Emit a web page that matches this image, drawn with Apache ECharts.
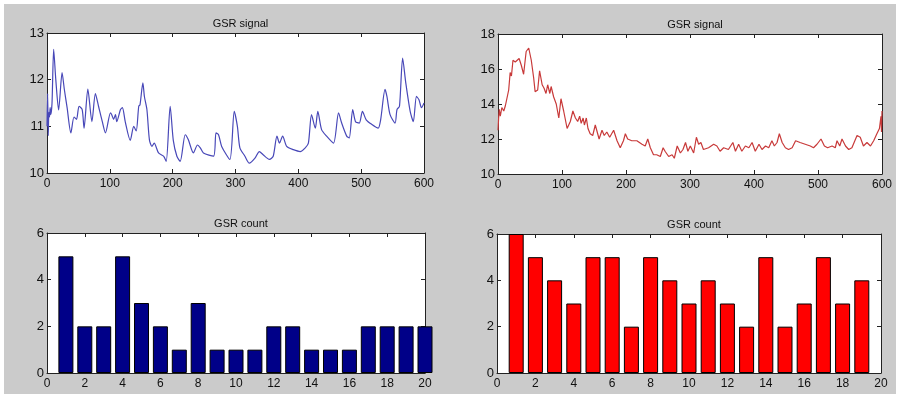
<!DOCTYPE html>
<html>
<head>
<meta charset="utf-8">
<script src="https://cdn.jsdelivr.net/npm/echarts@6/dist/echarts.min.js"></script>
<style>
html,body{margin:0;padding:0;background:#fff;}
#c{width:903px;height:401px;}
</style>
</head>
<body>
<div id="c"></div>
<script>
const titles = ['GSR signal', 'GSR signal', 'GSR count', 'GSR count'];

const leftSignal = [[0,11.0],[1,11.7],[2,10.8],[3,11.3],[4,11.2],[5,11.4],[6,11.25],[8,11.5],[10.6,12.65],[14,12.0],[18.5,11.35],[24,12.15],[27.5,11.8],[32,11.4],[38,10.86],[43,11.2],[47,11.15],[51,11.43],[56,11.36],[59,10.96],[65,11.8],[71.5,11.1],[77,11.7],[82,11.43],[88,11.1],[93,10.86],[101,11.29],[103,11.25],[106,11.15],[109,11.25],[111,11.1],[117,11.36],[120,11.4],[124.5,11.1],[132.5,10.7],[138,11.0],[142,10.9],[146,11.43],[148,11.46],[152.6,11.93],[155,11.64],[159,11.36],[163,10.71],[167,10.57],[170.6,10.64],[177.5,10.43],[185.5,10.36],[189.7,10.25],[196,11.43],[201,10.7],[206.7,10.36],[212,10.25],[220,10.82],[225,10.71],[233,10.43],[239.5,10.6],[244,10.54],[249,10.43],[265,10.36],[269,10.86],[273,10.82],[278,10.57],[291,10.29],[298,11.32],[303,11.0],[307,10.54],[315,10.36],[322,10.21],[331,10.32],[338,10.46],[344,10.39],[354,10.29],[360,10.36],[366,10.79],[370,10.64],[375,10.79],[381.5,10.57],[392,10.5],[403,10.46],[411,10.54],[416,10.64],[421,11.25],[427,10.96],[431,11.32],[437,10.93],[445,10.79],[456,10.64],[464,11.29],[469,11.07],[477,10.79],[481,10.75],[486.5,11.36],[491,11.1],[497,11.07],[502,11.32],[508,11.14],[517,11.04],[527,10.96],[531,11.14],[538,11.79],[541,11.64],[546,11.25],[554,11.07],[557,11.36],[561,11.43],[566,12.46],[571,11.93],[578,11.32],[583,11.1],[588,11.64],[592,11.57],[596,11.4],[600,11.5]];

const rightSignal = [[0,12.5],[1,13.2],[2,13.7],[3.6,13.3],[6,13.8],[9,13.6],[11.5,13.9],[16.7,14.8],[19,15.8],[21,15.6],[23.4,16.5],[27,16.4],[29.7,16.3],[33,16.6],[36.5,16.2],[40,15.7],[44,17.0],[48,17.2],[52,16.5],[55.7,15.5],[58,14.7],[62,14.8],[65,15.9],[69,15.1],[72,14.9],[75,14.6],[77.6,15.1],[81,14.6],[83,15.0],[87,14.4],[91,14.0],[95,13.2],[98.4,14.3],[102.6,13.6],[108,12.6],[113,13.0],[117,13.6],[121,13.2],[124.5,13.0],[127.6,13.3],[130,12.9],[133,13.2],[135,12.8],[138,13.2],[140.6,12.6],[144,12.3],[148,12.2],[152,12.8],[155,12.4],[158,12.0],[162.5,12.5],[166,12.2],[170,12.4],[174.5,12.1],[180.7,12.5],[186,11.9],[191,11.5],[196,11.9],[199,12.3],[202.6,12.0],[209,11.9],[217,11.9],[225,11.7],[230,11.6],[234,12.0],[238,11.5],[243,11.1],[248,11.1],[253.6,11.0],[258,11.5],[261,11.3],[266.7,11.0],[272,11.1],[275.5,10.9],[280,11.6],[285,11.2],[289,11.4],[293,11.8],[296.7,11.3],[300.5,11.6],[305.7,11.2],[310,12.1],[313.5,11.7],[317,11.8],[321,11.4],[329,11.5],[337,11.7],[342,11.6],[347,11.3],[352.6,11.5],[360,11.4],[367,11.8],[371,11.3],[376,11.7],[381,11.3],[386.5,11.6],[392,11.5],[397,11.8],[402,11.3],[407.8,11.7],[412.5,11.4],[418,11.6],[423,11.5],[428,11.9],[431.8,11.6],[436,11.8],[439.6,12.3],[444,11.8],[449,11.5],[454,11.4],[459.6,11.5],[465,11.9],[472,11.8],[480,11.7],[488,11.6],[493,11.5],[498.4,11.7],[504.7,12.0],[510,11.6],[515,11.5],[522,11.6],[527,11.5],[529.7,11.9],[534,11.6],[537.5,12.0],[543,11.6],[548,11.4],[553,11.5],[561,12.2],[566,12.1],[571,11.6],[576.5,11.8],[582,11.6],[587,11.9],[589.6,11.8],[592,12.3],[596,12.6],[598.4,13.3],[599.2,12.4],[600,13.6]];

const leftCountX = [1,2,3,4,5,6,7,8,9,10,11,12,13,14,15,16,17,18,19,20];
const leftCount  = [5,2,2,5,3,2,1,3,1,1,1,2,2,1,1,1,2,2,2,2];
const rightCountX = [1,2,3,4,5,6,7,8,9,10,11,12,13,14,15,16,17,18,19];
const rightCount  = [6,5,4,3,5,5,2,5,4,3,4,3,2,5,2,3,5,3,4];

const yRanges = [[10,13,1],[10,18,2],[0,6,2],[0,6,2]];
const xRanges = [[0,600,100],[0,600,100],[0,20,2],[0,20,2]];

const grids = [
  {left:47, top:33, width:377, height:140},
  {left:498, top:34, width:384, height:140},
  {left:47, top:233, width:378, height:140},
  {left:497, top:234, width:384, height:139}
];

const lineCol = '#222';
const xAxes = [], yAxes = [];
grids.forEach((g, i) => {
  g.show = true; g.backgroundColor = '#ffffff'; g.borderWidth = 0;
  const [xmin, xmax, xint] = xRanges[i];
  const [ymin, ymax, yint] = yRanges[i];
  const common = {axisLine:{show:true,onZero:false,lineStyle:{color:lineCol,width:1}},
                  axisTick:{show:true,inside:true,length:4,lineStyle:{color:lineCol}},
                  splitLine:{show:false}};
  xAxes.push(Object.assign({type:'value', gridIndex:i, position:'bottom', min:xmin, max:xmax, interval:xint,
    axisLabel:{color:'#111', fontSize:12, fontFamily:'Liberation Sans, Arial', margin:5}}, JSON.parse(JSON.stringify(common))));
  xAxes.push(Object.assign({type:'value', gridIndex:i, position:'top', min:xmin, max:xmax, interval:xint,
    axisLabel:{show:false}}, JSON.parse(JSON.stringify(common))));
  yAxes.push(Object.assign({type:'value', gridIndex:i, position:'left', min:ymin, max:ymax, interval:yint,
    axisLabel:{color:'#111', fontSize:13, fontFamily:'Liberation Sans, Arial', margin:3}}, JSON.parse(JSON.stringify(common))));
  yAxes.push(Object.assign({type:'value', gridIndex:i, position:'right', min:ymin, max:ymax, interval:yint,
    axisLabel:{show:false}}, JSON.parse(JSON.stringify(common))));
});

const titleOpts = grids.map((g, i) => ({
  text: titles[i], left: g.left + g.width/2, top: g.top - 20, textAlign: 'center',
  textStyle: {fontSize: 11, fontWeight: 'normal', color: '#111', fontFamily: 'Liberation Sans, Arial'}
}));

const chart = echarts.init(document.getElementById('c'), null, {renderer:'canvas'});
chart.setOption({
  animation: false,
  backgroundColor: '#ffffff',
  graphic: [{type:'rect', shape:{x:4, y:4, width:892, height:390}, style:{fill:'#cbcbcb'}, z:-10, silent:true}],
  title: titleOpts,
  grid: grids,
  xAxis: xAxes,
  yAxis: yAxes,
  series: [
    {type:'line', xAxisIndex:0, yAxisIndex:0, data:leftSignal, showSymbol:false, smooth:0.25,
     lineStyle:{color:'#4848b8', width:1.2}, clip:true},
    {type:'line', xAxisIndex:2, yAxisIndex:2, data:rightSignal, showSymbol:false,
     lineStyle:{color:'#c83a3a', width:1.2}, clip:true},
    {type:'bar', xAxisIndex:4, yAxisIndex:4, data:leftCountX.map((x, k) => [x, leftCount[k]]), barWidth:15, clip:true,
     itemStyle:{color:'#000088', borderColor:'#000', borderWidth:1}},
    {type:'bar', xAxisIndex:6, yAxisIndex:6, data:rightCountX.map((x, k) => [x, rightCount[k]]), barWidth:15, clip:true,
     itemStyle:{color:'#ff0000', borderColor:'#000', borderWidth:1}}
  ]
});
</script>
</body>
</html>
